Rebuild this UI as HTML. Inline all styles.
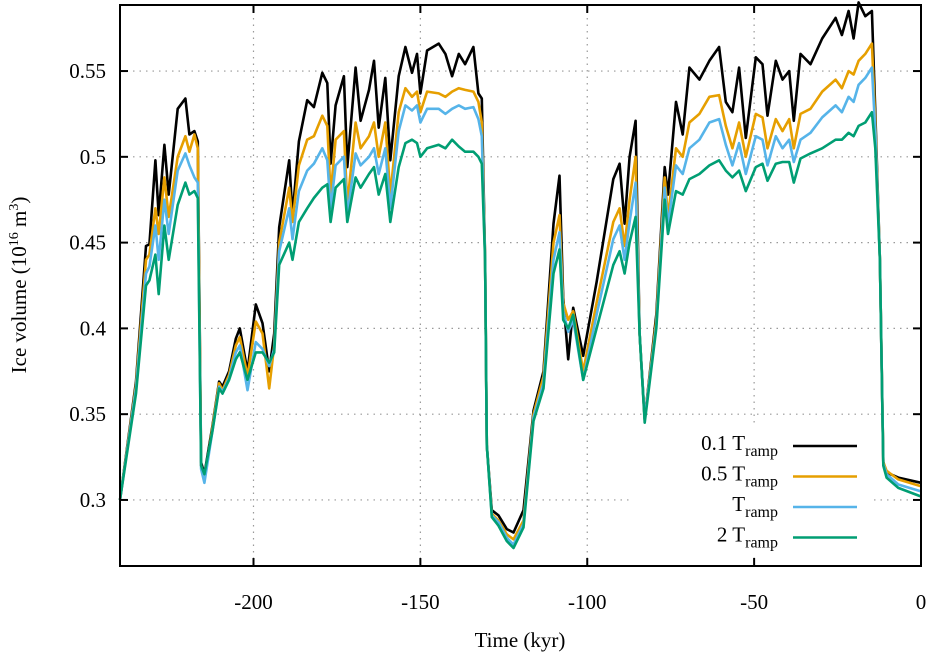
<!DOCTYPE html>
<html><head><meta charset="utf-8"><style>
html,body{margin:0;padding:0;background:#fff;}
svg{display:block;font-family:"Liberation Serif",serif;}
</style></head><body>
<svg id="chart" width="931" height="660" viewBox="0 0 931 660">
<g id="grid"></g>
<g id="series"></g>
<rect x="120" y="5" width="801" height="561" fill="none" stroke="#000" stroke-width="2"/>
<g id="ticks"></g>
<text x="520" y="647" font-size="21" text-anchor="middle">Time (kyr)</text>
<text transform="translate(26,285) rotate(-90)" font-size="21" text-anchor="middle">Ice volume (10<tspan dy="-8" font-size="14">16</tspan><tspan dy="8"> m</tspan><tspan dy="-8" font-size="14">3</tspan><tspan dy="8">)</tspan></text>
<g id="legend"></g>
</svg>
<script>
const times = [-240,-235.2,-232.2,-231.2,-229.4,-228.4,-226.7,-225.4,-222.7,-220.4,-219.2,-217.7,-216.7,-215.7,-214.7,-212.3,-210.3,-209.3,-207.3,-205.3,-204.1,-201.8,-199.3,-197.3,-195.3,-193.8,-192.3,-189.3,-188.3,-186.4,-183.9,-181.9,-179.4,-177.9,-176.9,-175.4,-172.9,-171.9,-169.4,-167.9,-165.4,-163.9,-162.5,-160.5,-159.0,-156.5,-154.5,-152.5,-151.0,-150.0,-148.0,-144.5,-142.5,-140.5,-138.5,-136.6,-134.1,-132.6,-131.6,-130.6,-130.1,-128.6,-126.6,-124.1,-122.1,-119.1,-116.1,-113.1,-110.1,-108.3,-107.2,-105.7,-104.2,-101.2,-97.2,-92.2,-90.3,-88.8,-87.3,-85.5,-84.3,-82.8,-79.3,-76.8,-75.8,-73.4,-71.4,-69.4,-66.4,-63.4,-60.5,-58.5,-56.5,-54.5,-52.5,-49.5,-47.5,-46.0,-43.5,-41.5,-39.5,-38.1,-36.1,-33.1,-29.6,-25.6,-23.7,-21.7,-20.2,-18.7,-16.7,-14.7,-13.7,-12.3,-11.3,-10.3,-6.8,0];
const seriesBlack = [.300,.369,.448,.449,.498,.466,.507,.478,.528,.534,.513,.515,.509,.322,.315,.343,.369,.366,.375,.394,.400,.375,.414,.403,.375,.397,.459,.498,.466,.509,.533,.529,.549,.543,.496,.530,.547,.494,.552,.521,.539,.556,.517,.546,.498,.547,.564,.549,.560,.537,.562,.566,.560,.547,.560,.554,.564,.537,.534,.440,.332,.294,.291,.283,.281,.294,.352,.375,.461,.489,.418,.382,.412,.384,.427,.487,.496,.461,.500,.521,.397,.347,.408,.494,.478,.532,.513,.552,.545,.556,.564,.532,.526,.552,.511,.558,.554,.524,.556,.545,.550,.521,.560,.554,.569,.581,.571,.585,.569,.590,.582,.585,.526,.440,.322,.316,.313,.310];
const seriesOrange = [.300,.367,.440,.443,.470,.455,.488,.465,.500,.512,.503,.513,.505,.320,.312,.342,.368,.364,.373,.390,.395,.372,.404,.397,.365,.390,.450,.482,.462,.495,.510,.512,.524,.518,.478,.510,.515,.472,.520,.505,.512,.520,.500,.520,.478,.526,.540,.535,.538,.526,.538,.537,.535,.538,.540,.539,.538,.532,.520,.440,.332,.292,.288,.280,.277,.288,.350,.372,.450,.466,.415,.405,.410,.375,.415,.462,.470,.448,.475,.500,.397,.347,.405,.488,.465,.505,.500,.520,.525,.535,.536,.518,.505,.520,.500,.525,.523,.505,.522,.515,.522,.505,.525,.528,.538,.545,.540,.550,.548,.556,.560,.566,.520,.440,.322,.317,.312,.308];
const seriesBlue = [.300,.365,.432,.436,.460,.440,.475,.455,.492,.502,.495,.488,.485,.318,.310,.340,.366,.363,.371,.386,.390,.364,.392,.388,.378,.388,.445,.470,.452,.480,.492,.496,.505,.498,.470,.495,.500,.466,.502,.495,.500,.505,.490,.505,.470,.515,.530,.527,.530,.520,.528,.528,.525,.528,.530,.528,.529,.522,.512,.440,.332,.291,.287,.278,.274,.286,.348,.368,.440,.456,.410,.398,.405,.370,.408,.452,.460,.440,.462,.485,.397,.347,.402,.482,.460,.495,.490,.505,.510,.520,.522,.507,.495,.508,.490,.512,.510,.495,.512,.505,.510,.497,.510,.514,.523,.530,.526,.535,.532,.542,.546,.552,.515,.440,.321,.315,.309,.305];
const seriesGreen = [.300,.362,.425,.428,.443,.420,.460,.440,.472,.485,.478,.480,.476,.320,.315,.340,.365,.362,.370,.382,.386,.370,.386,.386,.380,.386,.437,.450,.440,.462,.470,.476,.482,.484,.462,.482,.487,.462,.488,.482,.490,.494,.478,.490,.462,.494,.508,.510,.508,.500,.505,.507,.505,.510,.506,.503,.503,.500,.496,.440,.332,.290,.285,.276,.272,.284,.346,.365,.432,.446,.405,.400,.408,.370,.400,.437,.445,.432,.450,.465,.397,.345,.400,.475,.455,.480,.478,.487,.490,.495,.498,.492,.488,.492,.480,.494,.496,.486,.496,.497,.497,.485,.499,.502,.505,.510,.510,.514,.512,.518,.520,.526,.505,.440,.320,.313,.307,.302];
const seriesNames = ["0.1","0.5","","2"];
const seriesColors = ["#000000","#e69f00","#56b4e9","#009e73"];
const xTicks = [-200,-150,-100,-50,0];
const yTicks = [0.3,0.35,0.4,0.45,0.5,0.55];
const yTickLabels = ["0.3","0.35","0.4","0.45","0.5","0.55"];

const L=120,R=921,T=5,B=566, XMIN=-240,XMAX=0, YMIN=0.2615,YMAX=0.5885;
const xs = t => L + (t-XMIN)/(XMAX-XMIN)*(R-L);
const ys = v => B - (v-YMIN)/(YMAX-YMIN)*(B-T);
const NS="http://www.w3.org/2000/svg";
function mk(tag, parent, attrs){const e=document.createElementNS(NS,tag);for(const k in attrs)e.setAttribute(k,attrs[k]);parent.appendChild(e);return e;}
const grid=document.getElementById('grid'), ticks=document.getElementById('ticks');
xTicks.forEach((t,i)=>{
  const x=xs(t);
  if(t>XMIN && t<XMAX){
    const g=mk('line',grid,{x1:x,x2:x,y1:T,y2:B,stroke:'#999','stroke-width':1.2,'stroke-dasharray':'1.5,5'});
    
    
  }
  const a=mk('line',ticks,{x1:x,x2:x,y1:B,y2:B-8,stroke:'#000','stroke-width':2});
  
  
  const b=mk('line',ticks,{x1:x,x2:x,y1:T,y2:T+8,stroke:'#000','stroke-width':2});
  
  
  const lb=mk('text',ticks,{x:x,y:609,'font-size':21,'text-anchor':'middle'});
  lb.textContent=String(t);
  
  
});
yTicks.forEach((v,i)=>{
  const y=ys(v);
  const g=mk('line',grid,{x1:L,x2:R,y1:y,y2:y,stroke:'#999','stroke-width':1.2,'stroke-dasharray':'1.5,5'});
  
  
  const a=mk('line',ticks,{x1:L,x2:L+8,y1:y,y2:y,stroke:'#000','stroke-width':2});
  
  
  const b=mk('line',ticks,{x1:R,x2:R-8,y1:y,y2:y,stroke:'#000','stroke-width':2});
  
  
  const lb=mk('text',ticks,{x:106,y:y+7,'font-size':21,'text-anchor':'end'});
  lb.textContent=yTickLabels[i];
  
  
});
// legend background to hide grid behind it
const lgd=document.getElementById('legend');
const allSeries=[seriesBlack,seriesOrange,seriesBlue,seriesGreen];
const sg=document.getElementById('series');
allSeries.forEach((vals,k)=>{
  const d=vals.map((v,i)=>(i?'L':'M')+xs(times[i]).toFixed(1)+','+ys(v).toFixed(1)).join(' ');
  const p=mk('path',sg,{d:d,fill:'none',stroke:seriesColors[k],'stroke-width':2.6,'stroke-linejoin':'round'});
  
  
});
const bg=mk('rect',grid,{x:630,y:425,width:240,height:130,fill:'#fff'});


seriesNames.forEach((n,k)=>{
  const y=446+k*30.5;
  const ln=mk('line',lgd,{x1:793,x2:857,y1:y,y2:y,stroke:seriesColors[k],'stroke-width':2.6});
  
  
  const tx=mk('text',lgd,{x:778,y:y+4,'font-size':21,'text-anchor':'end'});
  tx.innerHTML=(n?n+' ':'')+'T<tspan dy="6" font-size="16">ramp</tspan>';
  
  
});
</script>
</body></html>
